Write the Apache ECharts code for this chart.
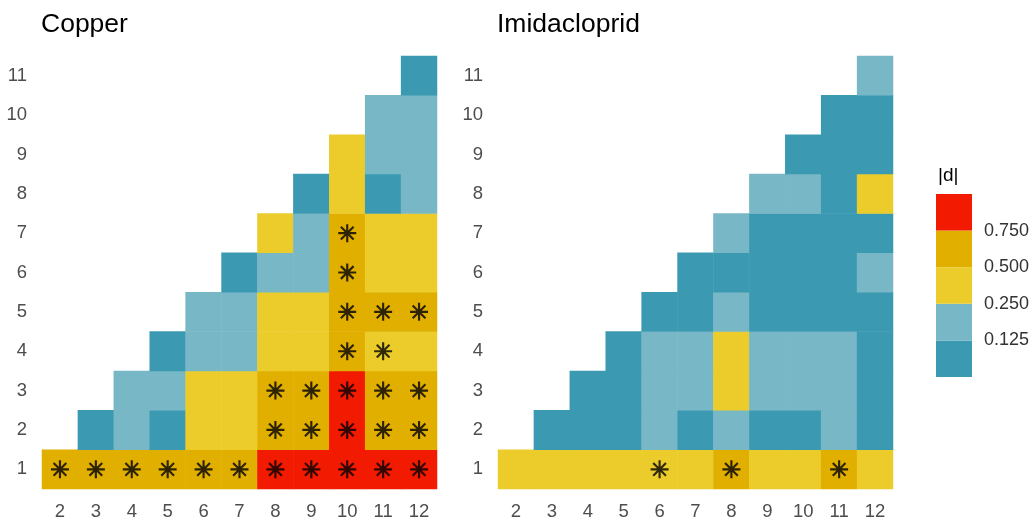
<!DOCTYPE html>
<html>
<head>
<meta charset="utf-8">
<script src="https://cdn.jsdelivr.net/npm/echarts@6/dist/echarts.min.js"></script>
<style>
  html, body { margin: 0; padding: 0; background: #fff; }
  #chart { width: 1033px; height: 521px; }
</style>
</head>
<body>
<div id="chart"></div>
<script>
// axes
const xCats = ['2', '3', '4', '5', '6', '7', '8', '9', '10', '11', '12']
const yCats = ['1', '2', '3', '4', '5', '6', '7', '8', '9', '10', '11']

// |d| estimates, one list per row (y = 1..11), columns x = y+1 .. 12
const copperRows = [
  [0.62, 0.58, 0.66, 0.60, 0.55, 0.63, 0.88, 0.82, 0.95, 0.86, 0.91],
  [0.08, 0.17, 0.10, 0.34, 0.41, 0.61, 0.57, 0.83, 0.64, 0.59],
  [0.21, 0.18, 0.36, 0.30, 0.55, 0.60, 0.79, 0.68, 0.62],
  [0.06, 0.16, 0.22, 0.33, 0.39, 0.58, 0.47, 0.29],
  [0.19, 0.23, 0.31, 0.42, 0.66, 0.54, 0.52],
  [0.05, 0.20, 0.14, 0.57, 0.35, 0.44],
  [0.27, 0.21, 0.61, 0.38, 0.32],
  [0.09, 0.40, 0.11, 0.18],
  [0.30, 0.24, 0.15],
  [0.17, 0.20],
  [0.07]
]
const imidRows = [
  [0.36, 0.30, 0.28, 0.33, 0.45, 0.38, 0.56, 0.31, 0.34, 0.53, 0.27],
  [0.05, 0.08, 0.10, 0.16, 0.09, 0.20, 0.06, 0.11, 0.14, 0.04],
  [0.07, 0.09, 0.18, 0.22, 0.29, 0.15, 0.19, 0.13, 0.08],
  [0.10, 0.21, 0.17, 0.32, 0.14, 0.23, 0.16, 0.06],
  [0.08, 0.11, 0.19, 0.05, 0.09, 0.07, 0.10],
  [0.04, 0.06, 0.09, 0.12, 0.08, 0.17],
  [0.15, 0.07, 0.10, 0.05, 0.11],
  [0.18, 0.14, 0.09, 0.26],
  [0.06, 0.10, 0.08],
  [0.11, 0.05],
  [0.16]
]

// significant cells (x values), one list per row y = 1..11
const copperSig = [
  [2, 3, 4, 5, 6, 7, 8, 9, 10, 11, 12],
  [8, 9, 10, 11, 12],
  [8, 9, 10, 11, 12],
  [10, 11],
  [10, 11, 12],
  [10],
  [10],
  [], [], [], []
]
const imidSig = [
  [6, 8, 11],
  [], [], [], [], [], [], [], [], [], []
]

// legend
const breaks = [0.125, 0.25, 0.5, 0.75]
const palette = ['#3B9AB2', '#78B7C5', '#EBCC2A', '#E1AF00', '#F21A00']

const FONT = 'Arial, "Liberation Sans", Helvetica, sans-serif'

// asterisk (plus + cross), filled so it scales with symbolSize
const STAR = 'path://M0 44L100 44L100 56L0 56Z' +
  'M44 0L56 0L56 100L44 100Z' +
  'M18.8 10.4L89.6 81.2L81.2 89.6L10.4 18.8Z' +
  'M81.2 10.4L89.6 18.8L18.8 89.6L10.4 81.2Z'

function cells(rows) {
  const out = []
  rows.forEach((vals, yi) => {
    vals.forEach((v, k) => {
      const x = yi + 2 + k
      out.push([xCats.indexOf(String(x)), yi, v])
    })
  })
  return out
}

function stars(sig) {
  const out = []
  sig.forEach((xs, yi) => xs.forEach((x) => out.push([xCats.indexOf(String(x)), yi])))
  return out
}

const axisText = { color: '#4D4D4D', fontSize: 18.5, fontFamily: FONT }

function xAxis(gridIndex) {
  return {
    type: 'category', gridIndex, data: xCats,
    axisLine: { show: false }, axisTick: { show: false }, splitLine: { show: false },
    axisLabel: Object.assign({ margin: 13 }, axisText)
  }
}
function yAxis(gridIndex) {
  return {
    type: 'category', gridIndex, data: yCats,
    axisLine: { show: false }, axisTick: { show: false }, splitLine: { show: false },
    axisLabel: Object.assign({ margin: 15 }, axisText)
  }
}

const titleStyle = { fontSize: 26.5, fontWeight: 'normal', color: '#000', fontFamily: FONT }

const chart = echarts.init(document.getElementById('chart'))
chart.setOption({
  backgroundColor: '#fff',
  animation: false,
  textStyle: { fontFamily: FONT },
  title: [
    { text: 'Copper', left: 36, top: 6, textStyle: titleStyle },
    { text: 'Imidacloprid', left: 492, top: 6, textStyle: titleStyle },
    { text: '|d|', left: 933, top: 161, textStyle: { fontSize: 19, fontWeight: 'normal', color: '#000', fontFamily: FONT } }
  ],
  grid: [
    { left: 42, top: 56, width: 395, height: 434 },
    { left: 498, top: 56, width: 395, height: 434 },
    { left: 936, top: 194, width: 36, height: 183 }
  ],
  xAxis: [
    xAxis(0),
    xAxis(1),
    { type: 'category', gridIndex: 2, data: ['d'], show: false }
  ],
  yAxis: [
    yAxis(0),
    yAxis(1),
    {
      type: 'value', gridIndex: 2, position: 'right', min: 0, max: palette.length, interval: 1,
      axisLine: { show: false }, axisTick: { show: false }, splitLine: { show: false },
      axisLabel: {
        margin: 12, color: '#333', fontSize: 18, fontFamily: FONT,
        formatter: (v) => (v >= 1 && v <= breaks.length ? breaks[v - 1].toFixed(3) : '')
      }
    }
  ],
  visualMap: {
    type: 'piecewise', show: false, seriesIndex: [0, 1], dimension: 2,
    pieces: [
      { lt: breaks[0], color: palette[0] },
      { gte: breaks[0], lt: breaks[1], color: palette[1] },
      { gte: breaks[1], lt: breaks[2], color: palette[2] },
      { gte: breaks[2], lt: breaks[3], color: palette[3] },
      { gte: breaks[3], color: palette[4] }
    ]
  },
  series: [
    { type: 'heatmap', xAxisIndex: 0, yAxisIndex: 0, data: cells(copperRows), itemStyle: { borderWidth: 0 } },
    { type: 'heatmap', xAxisIndex: 1, yAxisIndex: 1, data: cells(imidRows), itemStyle: { borderWidth: 0 } },
    { type: 'scatter', xAxisIndex: 0, yAxisIndex: 0, data: stars(copperSig), symbol: STAR, symbolSize: 18, itemStyle: { color: '#000' }, z: 5 },
    { type: 'scatter', xAxisIndex: 1, yAxisIndex: 1, data: stars(imidSig), symbol: STAR, symbolSize: 18, itemStyle: { color: '#000' }, z: 5 }
  ].concat(palette.map((c) => ({
    type: 'bar', xAxisIndex: 2, yAxisIndex: 2, stack: 'legend', barWidth: '100%',
    data: [1], itemStyle: { color: c }, silent: true
  })))
})
</script>
</body>
</html>
